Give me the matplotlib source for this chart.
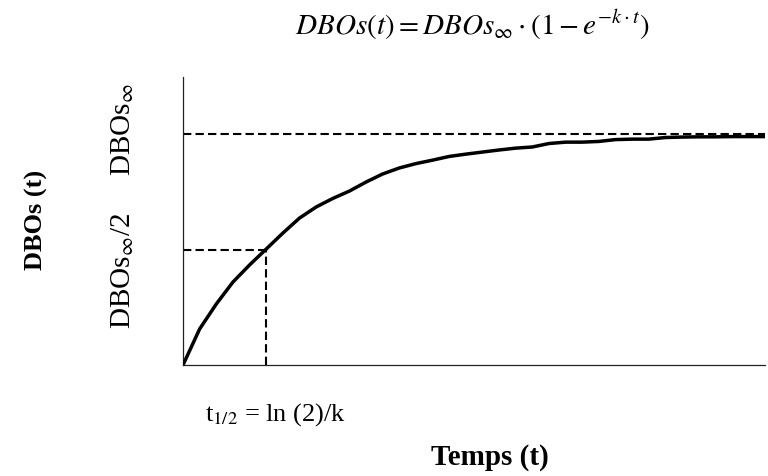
import matplotlib
matplotlib.use('Agg')
import matplotlib.pyplot as plt
import matplotlib.transforms as mtransforms

plt.rcParams['font.family'] = ['Liberation Serif', 'DejaVu Serif']
plt.rcParams['mathtext.fontset'] = 'stix'

# BOD curve read in units of t, values in % of DBOs_inf
t = list(range(0, 36))
dbo = [0.0, 15.6, 26.4, 35.9, 43.3, 50.2, 57.1, 63.6, 68.4, 72.1,
       75.3, 79.2, 82.7, 85.3, 87.2, 88.7, 90.3, 91.3, 92.2, 93.1,
       93.9, 94.4, 95.9, 96.5, 96.5, 96.8, 97.6, 97.8, 97.8, 98.5,
       98.7, 98.8, 98.8, 98.9, 98.9, 98.9]
dbo_inf = 100.0
t_half = 5.0

fig = plt.figure(figsize=(7.68, 4.76), dpi=100)
ax = fig.add_axes([0.2383, 0.2332, 0.758, 0.605])

ax.plot(t, dbo, color='black', lw=2.5, solid_joinstyle='round', zorder=3)

dash = (0, (4, 2))
ax.axhline(dbo_inf, color='black', lw=1.5, linestyle=dash, zorder=2)
ax.plot([0, t_half], [dbo_inf / 2, dbo_inf / 2], color='black', lw=1.5, linestyle=dash)
ax.plot([t_half, t_half], [0, dbo_inf / 2], color='black', lw=1.5, linestyle=dash)

ax.set_xlim(0, 35)
ax.set_ylim(0, 124.7)
ax.set_xticks([])
ax.set_yticks([])
for side in ['top', 'right']:
    ax.spines[side].set_visible(False)
for side in ['left', 'bottom']:
    ax.spines[side].set_linewidth(0.9)
    ax.spines[side].set_color('#222222')

# level labels beside the y axis
trans = mtransforms.blended_transform_factory(ax.transAxes, ax.transData)
ax.text(-0.103, 102, r'DBOs$_{\infty}$', rotation=90, transform=trans,
        ha='center', va='center', fontsize=21)
ax.text(-0.103, 40.7, r'DBOs$_{\infty}$/2', rotation=90, transform=trans,
        ha='center', va='center', fontsize=21)

fig.text(0.047, 0.538, 'DBOs (t)', rotation=90, ha='center', va='center',
         fontsize=19, fontweight='bold')
fig.text(0.638, 0.038, 'Temps (t)', ha='center', va='center',
         fontsize=21, fontweight='bold')
fig.text(0.267, 0.130, r't$_{1/2}$ = ln (2)/k', ha='left', va='center',
         fontsize=19)
fig.text(0.615, 0.947, r'$DBOs(t) = DBOs_{\infty} \cdot (1 - e^{-k \cdot t})$',
         ha='center', va='center', fontsize=21)

fig.savefig('out.png', dpi=100)
